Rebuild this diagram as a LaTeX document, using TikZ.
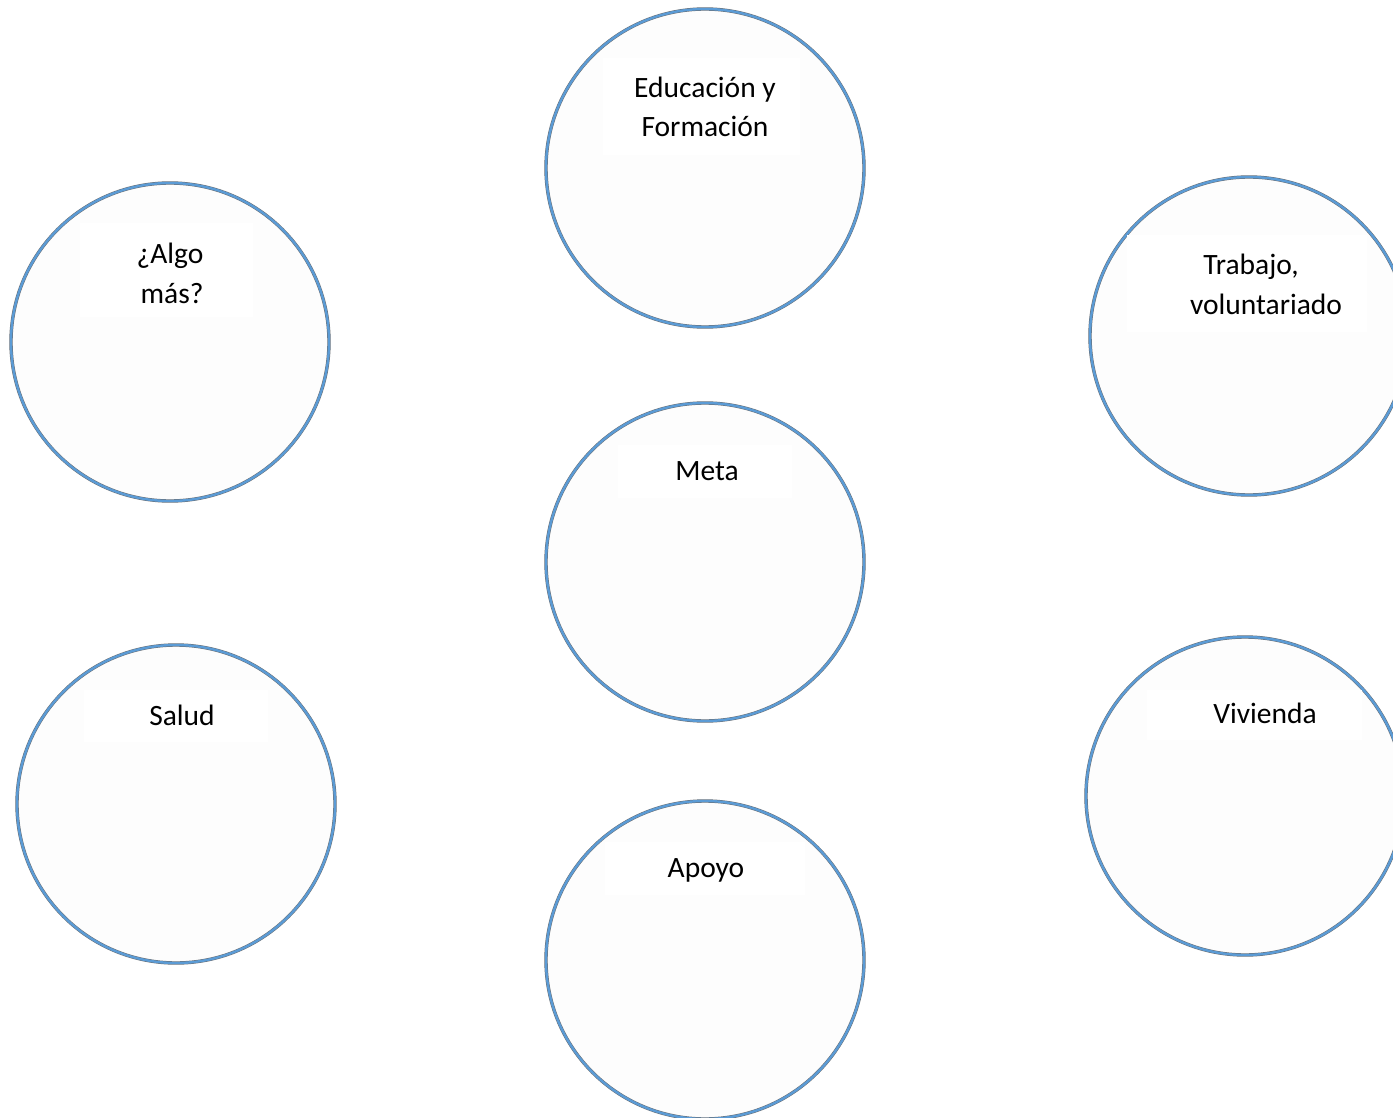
\documentclass[tikz,border=0pt]{standalone}
\usepackage{fontspec}
\setmainfont{Carlito}
\definecolor{ringblue}{HTML}{5B9BD5}
\definecolor{ringedge}{HTML}{6A6F75}
\definecolor{ringfill}{HTML}{FDFDFD}
\begin{document}
\begin{tikzpicture}[x=1pt,y=-1pt,
  ring/.style={circle,minimum size=318pt,inner sep=0pt,fill=ringfill,draw=ringedge,line width=3.4pt,
    postaction={draw=ringblue,line width=2.4pt}},
  lbl/.style={anchor=base,font=\fontsize{29.5}{38}\selectfont,text=black,inner sep=0pt}]
\useasboundingbox[fill=white] (0,0) rectangle (1393,1118);
% circles
\node[ring] (edu) at (705,168) {};
\node[ring] (algo) at (170,342) {};
\node[ring] (trab) at (1249,336) {};
\node[ring] (meta) at (705,562) {};
\node[ring] (salud) at (176,804) {};
\node[ring] (viv) at (1245,796) {};
\node[ring] (apoyo) at (705,960) {};
% faint text backgrounds
\fill[white] (603,58) rectangle (800,155);
\fill[white] (80,223) rectangle (253,317);
\fill[white] (1127,235) rectangle (1367,332);
\fill[white] (618,445) rectangle (792,498);
\fill[white] (84,690) rectangle (268,742);
\fill[white] (1147,690) rectangle (1362,740);
\fill[white] (605,842) rectangle (805,895);
% labels
\node[lbl] (edu1) at (705,98) {Educación y};
\node[lbl] (edu2) at (705,137) {Formación};
\node[lbl] (algo1) at (170,264) {¿Algo};
\node[lbl] (algo2) at (172,303) {más?};
\node[lbl] (trab1) at (1251,275) {Trabajo,};
\node[lbl] (trab2) at (1266,314) {voluntariado};
\node[lbl] (meta1) at (707,480) {Meta};
\node[lbl] (salud1) at (182,725) {Salud};
\node[lbl] (viv1) at (1265,723) {Vivienda};
\node[lbl] (apoyo1) at (706,877) {Apoyo};
\end{tikzpicture}
\end{document}
